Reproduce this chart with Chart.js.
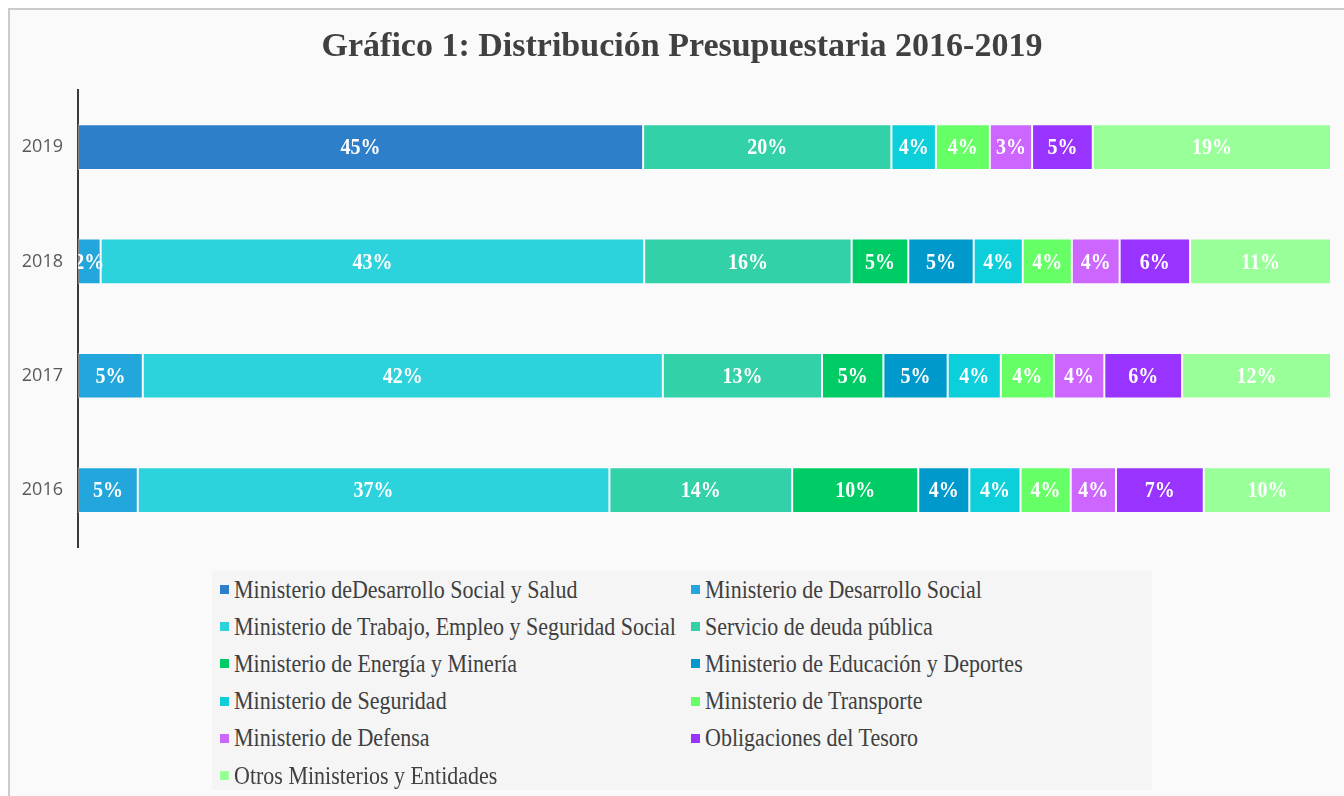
<!DOCTYPE html>
<html>
<head>
<meta charset="utf-8">
<script src="https://cdn.jsdelivr.net/npm/chart.js@4/dist/chart.umd.min.js"></script>
<style>
  html, body { margin: 0; padding: 0; background: #ffffff; width: 1344px; height: 796px; overflow: hidden; }
  #frame { position: absolute; left: 8px; top: 8px; width: 1350px; height: 800px; background: #fafafa; border: 2px solid #cbcbcb; box-sizing: border-box; }
  #c { position: absolute; left: 0; top: 0; }
  #title { position: absolute; left: 182px; width: 1000px; top: 25px; height: 40px; line-height: 40px; text-align: center;
    font-family: 'Liberation Serif', 'Times New Roman', serif; font-weight: bold; font-size: 34px; color: #404040; white-space: nowrap; }
  #legend { position: absolute; left: 212px; top: 572px; width: 940px; height: 219px; background: #f5f5f5;
    display: grid; grid-template-columns: 471px 469px; grid-auto-rows: 37.2px; box-sizing: border-box; padding-left: 8px; margin-top: -1px; }
  .item { display: flex; align-items: center; font-family: 'Liberation Serif', 'Times New Roman', serif; font-size: 22px; color: #404040; white-space: nowrap; }
  .item span.t { display: inline-block; transform: scaleY(1.1); transform-origin: left center; }
  .sw { width: 9px; height: 9px; margin-right: 5px; flex: none; }
</style>
</head>
<body>
<div id="frame"></div>
<canvas id="c" width="1344" height="573"></canvas>
<div id="title">Gráfico 1: Distribución Presupuestaria 2016-2019</div>
<div id="legend"></div>
<script>
// Categories (top to bottom)
const years = ['2019', '2018', '2017', '2016'];

// Series names
const seriesNames = [
  'Ministerio deDesarrollo Social y Salud',
  'Ministerio de Desarrollo Social',
  'Ministerio de Trabajo, Empleo y Seguridad Social',
  'Servicio de deuda pública',
  'Ministerio de Energía y Minería',
  'Ministerio de Educación y Deportes',
  'Ministerio de Seguridad',
  'Ministerio de Transporte',
  'Ministerio de Defensa',
  'Obligaciones del Tesoro',
  'Otros Ministerios y Entidades'
];

// Series values (% of budget), order: 2019, 2018, 2017, 2016
const desarrolloSocialSalud = [45.07, 0, 0, 0];
const desarrolloSocial      = [0, 1.8, 5.17, 4.74];
const trabajoEmpleo         = [0, 43.2, 41.5, 37.4];
const deudaPublica          = [19.8, 16.49, 12.7, 14.49];
const energiaMineria        = [0, 4.5, 4.9, 10.0];
const educacionDeportes     = [0, 5.2, 5.13, 4.05];
const seguridad             = [3.55, 3.9, 4.24, 4.06];
const transporte            = [4.3, 3.9, 4.24, 3.98];
const defensa               = [3.37, 3.8, 4.02, 3.59];
const obligacionesTesoro    = [4.84, 5.6, 6.21, 6.96];
const otrosMinisterios      = [19.0, 11.2, 11.88, 10.09];

const seriesValues = [desarrolloSocialSalud, desarrolloSocial, trabajoEmpleo, deudaPublica,
  energiaMineria, educacionDeportes, seguridad, transporte, defensa, obligacionesTesoro, otrosMinisterios];

const seriesColors = ['#2e7fca', '#22a6db', '#2dd3dc', '#33d1a7', '#00cc66', '#0099cc',
  '#0ccfda', '#66ff66', '#cc66ff', '#9933ff', '#99ff99'];

// 100% stacked: normalise each year to its total
const rowTotals = years.map((_, i) => seriesValues.reduce((s, arr) => s + arr[i], 0));

const datasets = seriesNames.map((name, k) => ({
  label: name,
  data: seriesValues[k].map((v, i) => v / rowTotals[i] * 100),
  raw: seriesValues[k],
  backgroundColor: seriesColors[k],
  borderColor: 'rgba(255,255,255,0.4)',
  borderWidth: 1,
  borderSkipped: false,
  barPercentage: 0.4,
  categoryPercentage: 1.0
}));

const labelPlugin = {
  id: 'segLabels',
  afterDatasetsDraw(chart) {
    const ctx = chart.ctx;
    const area = chart.chartArea;
    ctx.save();
    ctx.beginPath();
    ctx.rect(area.left, area.top, area.right - area.left, area.bottom - area.top);
    ctx.clip();
    ctx.font = 'bold 20px "Liberation Serif", "Times New Roman", serif';
    ctx.fillStyle = '#ffffff';
    ctx.textAlign = 'center';
    ctx.textBaseline = 'middle';
    chart.data.datasets.forEach((ds, di) => {
      const meta = chart.getDatasetMeta(di);
      meta.data.forEach((el, i) => {
        const v = ds.raw[i];
        if (!v) return;
        const cx = (el.x + el.base) / 2;
        ctx.save();
        ctx.translate(cx, el.y + 1);
        ctx.scale(1, 1.2);
        ctx.fillText(Math.round(v) + '%', 0, 0);
        ctx.restore();
      });
    });
    ctx.restore();
  }
};

const chart = new Chart(document.getElementById('c'), {
  type: 'bar',
  data: { labels: years, datasets },
  plugins: [labelPlugin],
  options: {
    indexAxis: 'y',
    responsive: false,
    animation: false,
    devicePixelRatio: 1,
    layout: { padding: { left: 0, right: 13, top: 90, bottom: 12 } },
    plugins: {
      legend: { display: false },
      tooltip: { enabled: false },
      title: { display: false }
    },
    scales: {
      x: { stacked: true, min: 0, max: 100, display: false },
      y: {
        stacked: true,
        grid: { display: false, drawTicks: false },
        border: { display: true, color: '#3a3a3a', width: 2 },
        ticks: { color: '#595959', padding: 15, font: { family: '"Open Sans", "Liberation Sans", sans-serif', size: 18 } },
        afterFit(scale) { scale.width = 78; }
      }
    }
  }
});

// HTML legend in two columns, built from the chart's datasets
const legendEl = document.getElementById('legend');
chart.data.datasets.forEach(ds => {
  const item = document.createElement('div');
  item.className = 'item';
  const sw = document.createElement('span');
  sw.className = 'sw';
  sw.style.background = ds.backgroundColor;
  item.appendChild(sw);
  const t = document.createElement('span');
  t.className = 't';
  t.textContent = ds.label;
  item.appendChild(t);
  legendEl.appendChild(item);
});
</script>
</body>
</html>
